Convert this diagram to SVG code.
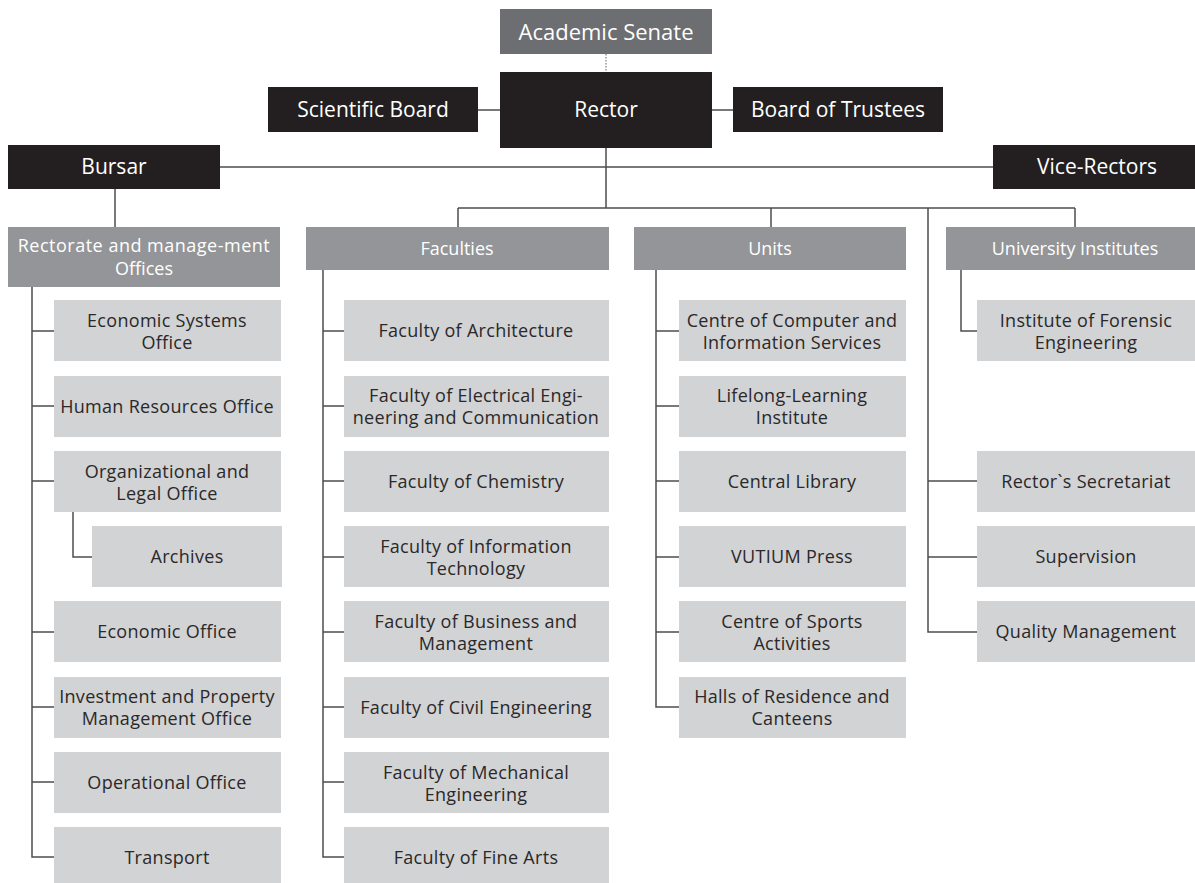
<svg xmlns="http://www.w3.org/2000/svg" width="1195" height="883" viewBox="0 0 1195 883">
<style>
text{font-family:"Open Sans","Liberation Sans",sans-serif;text-anchor:middle}
.dark rect{fill:#231f20}.dark text{fill:#fff;font-size:21px}
.sen rect{fill:#6d6e71}.sen text{fill:#fff;font-size:22px}
.hdr rect{fill:#939598}.hdr text{fill:#fff;font-size:18px}
.box rect{fill:#d1d3d4}.box text{fill:#2b2829;font-size:18px;letter-spacing:0.3px}
.c line,.c polyline{stroke:#4d4d4f;stroke-width:1.5;fill:none}
.c .dot{stroke:#939598;stroke-dasharray:1.5 1.5}
</style>
<rect width="1195" height="883" fill="#fff"/>
<g class="c" id="connectors">
<line class="dot" x1="606" y1="54" x2="606" y2="72"/>
<line x1="478" y1="110" x2="500" y2="110"/>
<line x1="712" y1="110" x2="733" y2="110"/>
<line x1="220" y1="167" x2="993" y2="167"/>
<line x1="606" y1="148" x2="606" y2="208"/>
<line x1="458" y1="208" x2="1075" y2="208"/>
<line x1="458" y1="208" x2="458" y2="228"/>
<line x1="771" y1="208" x2="771" y2="228"/>
<line x1="1075" y1="208" x2="1075" y2="228"/>
<line x1="115" y1="189" x2="115" y2="228"/>
<polyline points="928,208 928,632 977,632"/>
<line x1="928" y1="481" x2="977" y2="481"/>
<line x1="928" y1="557" x2="977" y2="557"/>
<polyline points="32,287 32,857 54,857"/>
<line x1="32" y1="331" x2="54" y2="331"/>
<line x1="32" y1="406" x2="54" y2="406"/>
<line x1="32" y1="481" x2="54" y2="481"/>
<line x1="32" y1="632" x2="54" y2="632"/>
<line x1="32" y1="707" x2="54" y2="707"/>
<line x1="32" y1="782" x2="54" y2="782"/>
<polyline points="73,512 73,557 92,557"/>
<polyline points="323,270 323,857 344,857"/>
<line x1="323" y1="331" x2="344" y2="331"/>
<line x1="323" y1="406" x2="344" y2="406"/>
<line x1="323" y1="481" x2="344" y2="481"/>
<line x1="323" y1="557" x2="344" y2="557"/>
<line x1="323" y1="632" x2="344" y2="632"/>
<line x1="323" y1="707" x2="344" y2="707"/>
<line x1="323" y1="782" x2="344" y2="782"/>
<polyline points="656,270 656,707 679,707"/>
<line x1="656" y1="331" x2="679" y2="331"/>
<line x1="656" y1="406" x2="679" y2="406"/>
<line x1="656" y1="481" x2="679" y2="481"/>
<line x1="656" y1="557" x2="679" y2="557"/>
<line x1="656" y1="632" x2="679" y2="632"/>
<polyline points="961,270 961,331 977,331"/>
</g>
<g id="senate" class="sen"><rect x="500" y="9" width="212" height="45"/><text x="606" y="40">Academic Senate</text></g>
<g id="rector" class="dark"><rect x="500" y="72" width="212" height="76"/><text x="606" y="117">Rector</text></g>
<g id="scientific" class="dark"><rect x="268" y="87" width="210" height="45"/><text x="373" y="117">Scientific Board</text></g>
<g id="trustees" class="dark"><rect x="733" y="87" width="210" height="45"/><text x="838" y="117">Board of Trustees</text></g>
<g id="bursar" class="dark"><rect x="8" y="145" width="212" height="44"/><text x="114" y="174">Bursar</text></g>
<g id="vicerectors" class="dark"><rect x="993" y="145" width="202" height="44"/><text x="1097" y="174">Vice-Rectors</text></g>
<g id="rectorate" class="hdr"><rect x="8" y="227" width="272" height="60"/><text x="144" y="252" style="letter-spacing:0.5px">Rectorate and manage-ment</text><text x="144" y="275">Offices</text></g>
<g id="faculties" class="hdr"><rect x="306" y="227" width="303" height="43"/><text x="457" y="255">Faculties</text></g>
<g id="units" class="hdr"><rect x="634" y="227" width="272" height="43"/><text x="770" y="255">Units</text></g>
<g id="institutes" class="hdr"><rect x="946" y="227" width="249" height="43"/><text x="1075" y="255">University Institutes</text></g>
<g id="econsys" class="box"><rect x="54" y="300" width="227" height="61"/><text x="167" y="327">Economic Systems</text><text x="167" y="349">Office</text></g>
<g id="hr" class="box"><rect x="54" y="376" width="227" height="61"/><text x="167" y="413">Human Resources Office</text></g>
<g id="orglegal" class="box"><rect x="54" y="451" width="227" height="61"/><text x="167" y="478">Organizational and</text><text x="167" y="500">Legal Office</text></g>
<g id="archives" class="box"><rect x="92" y="526" width="190" height="61"/><text x="187" y="563">Archives</text></g>
<g id="econ" class="box"><rect x="54" y="601" width="227" height="61"/><text x="167" y="638">Economic Office</text></g>
<g id="invest" class="box"><rect x="54" y="677" width="227" height="61"/><text x="167" y="703">Investment and Property</text><text x="167" y="725">Management Office</text></g>
<g id="operational" class="box"><rect x="54" y="752" width="227" height="61"/><text x="167" y="789">Operational Office</text></g>
<g id="transport" class="box"><rect x="54" y="827" width="227" height="61"/><text x="167" y="864">Transport</text></g>
<g id="f-arch" class="box"><rect x="344" y="300" width="265" height="61"/><text x="476" y="337">Faculty of Architecture</text></g>
<g id="f-elec" class="box"><rect x="344" y="376" width="265" height="61"/><text x="476" y="402">Faculty of Electrical Engi-</text><text x="476" y="424">neering and Communication</text></g>
<g id="f-chem" class="box"><rect x="344" y="451" width="265" height="61"/><text x="476" y="488">Faculty of Chemistry</text></g>
<g id="f-it" class="box"><rect x="344" y="526" width="265" height="61"/><text x="476" y="553">Faculty of Information</text><text x="476" y="575">Technology</text></g>
<g id="f-bus" class="box"><rect x="344" y="601" width="265" height="61"/><text x="476" y="628">Faculty of Business and</text><text x="476" y="650">Management</text></g>
<g id="f-civil" class="box"><rect x="344" y="677" width="265" height="61"/><text x="476" y="714">Faculty of Civil Engineering</text></g>
<g id="f-mech" class="box"><rect x="344" y="752" width="265" height="61"/><text x="476" y="779">Faculty of Mechanical</text><text x="476" y="801">Engineering</text></g>
<g id="f-fine" class="box"><rect x="344" y="827" width="265" height="61"/><text x="476" y="864">Faculty of Fine Arts</text></g>
<g id="u-cis" class="box"><rect x="679" y="300" width="227" height="61"/><text x="792" y="327">Centre of Computer and</text><text x="792" y="349">Information Services</text></g>
<g id="u-lli" class="box"><rect x="679" y="376" width="227" height="61"/><text x="792" y="402">Lifelong-Learning</text><text x="792" y="424">Institute</text></g>
<g id="u-lib" class="box"><rect x="679" y="451" width="227" height="61"/><text x="792" y="488">Central Library</text></g>
<g id="u-press" class="box"><rect x="679" y="526" width="227" height="61"/><text x="792" y="563">VUTIUM Press</text></g>
<g id="u-sport" class="box"><rect x="679" y="601" width="227" height="61"/><text x="792" y="628">Centre of Sports</text><text x="792" y="650">Activities</text></g>
<g id="u-halls" class="box"><rect x="679" y="677" width="227" height="61"/><text x="792" y="703">Halls of Residence and</text><text x="792" y="725">Canteens</text></g>
<g id="i-forensic" class="box"><rect x="977" y="300" width="218" height="61"/><text x="1086" y="327">Institute of Forensic</text><text x="1086" y="349">Engineering</text></g>
<g id="secretariat" class="box"><rect x="977" y="451" width="218" height="61"/><text x="1086" y="488">Rector`s Secretariat</text></g>
<g id="supervision" class="box"><rect x="977" y="526" width="218" height="61"/><text x="1086" y="563">Supervision</text></g>
<g id="quality" class="box"><rect x="977" y="601" width="218" height="61"/><text x="1086" y="638">Quality Management</text></g>
</svg>
